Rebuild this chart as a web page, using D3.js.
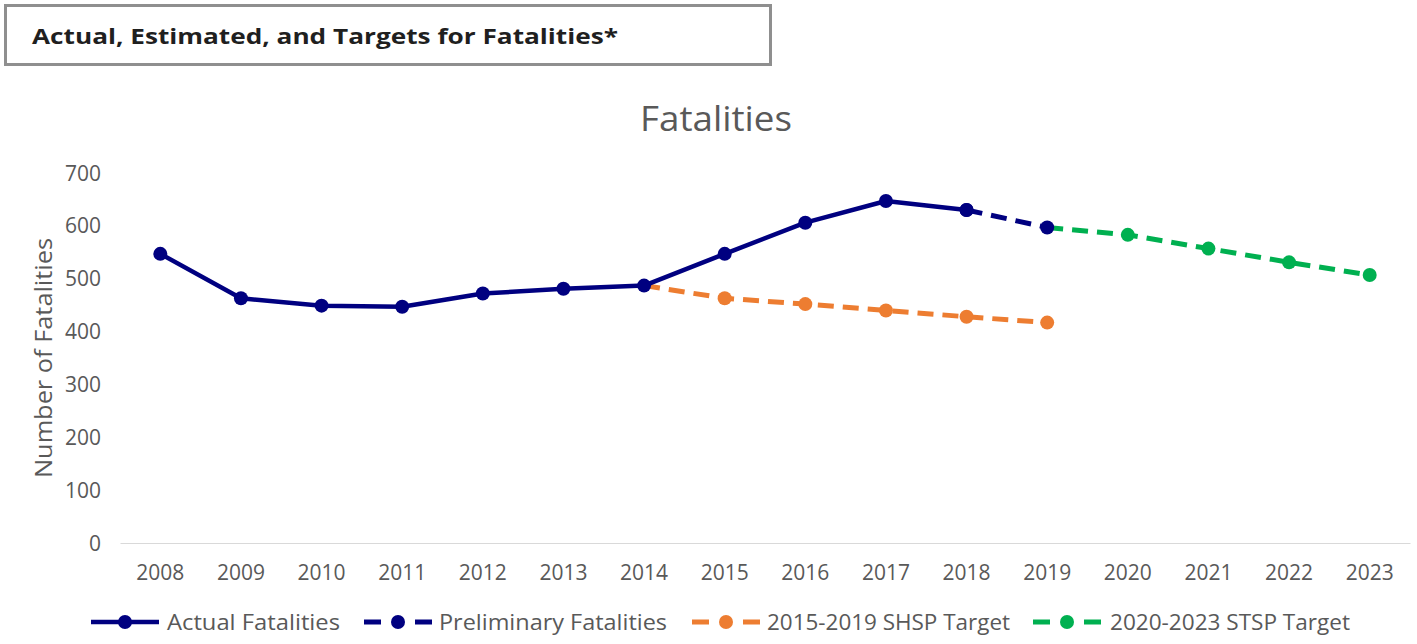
<!DOCTYPE html>
<html>
<head>
<meta charset="utf-8">
<script src="https://cdn.jsdelivr.net/npm/d3@7"></script>
<style>
  html, body { margin: 0; padding: 0; background: #fff; }
  svg { display: block; }
</style>
</head>
<body>
<svg id="chart" width="1417" height="644"></svg>
<script>
// ---- Data ----
const years = ["2008","2009","2010","2011","2012","2013","2014","2015","2016","2017","2018","2019","2020","2021","2022","2023"];
const actualYears = ["2008","2009","2010","2011","2012","2013","2014","2015","2016","2017","2018"];
const actualValues = [547, 463, 449, 447, 472, 481, 487, 547, 606, 647, 630];
const prelimYears = ["2018","2019"];
const prelimValues = [630, 597];
const shspYears = ["2014","2015","2016","2017","2018","2019"];
const shspValues = [487, 463, 452, 440, 428, 417];
const stspYears = ["2019","2020","2021","2022","2023"];
const stspValues = [597, 583, 557, 531, 507];
const yTicks = [0, 100, 200, 300, 400, 500, 600, 700];
const legendLabels = ["Actual Fatalities", "Preliminary Fatalities", "2015-2019 SHSP Target", "2020-2023 STSP Target"];

// ---- Styles ----
const NAVY = "#000080", ORANGE = "#ED7D31", GREEN = "#00B050", TXT = "#595959";
const FONT = "'Open Sans', 'Noto Sans', sans-serif";

const svg = d3.select("#chart");
svg.append("rect").attr("width", 1417).attr("height", 644).attr("fill", "#fff");

// Header box
svg.append("rect").attr("x", 5.5).attr("y", 5.5).attr("width", 765).attr("height", 59)
  .attr("fill", "#fff").attr("stroke", "#8f8f8f").attr("stroke-width", 3);
svg.append("text").attr("x", 32).attr("y", 44)
  .attr("font-family", FONT).attr("font-weight", "bold")
  .attr("font-size", 22).attr("fill", "#1f1f1f")
  .attr("textLength", 586).attr("lengthAdjust", "spacingAndGlyphs")
  .text("Actual, Estimated, and Targets for Fatalities*");

// Chart title
svg.append("text").attr("x", 716).attr("y", 131).attr("text-anchor", "middle")
  .attr("font-family", FONT).attr("font-size", 34).attr("fill", TXT)
  .attr("textLength", 152).attr("lengthAdjust", "spacingAndGlyphs")
  .text("Fatalities");

// Scales
const x = d3.scaleBand().domain(years).range([120, 1410]).padding(0);
const cx = d => x(d) + x.bandwidth() / 2;
const y = d3.scaleLinear().domain([0, 700]).range([543, 173]);

// Y axis
const yAxis = svg.append("g").attr("transform", "translate(101,0)")
  .call(d3.axisLeft(y).tickValues(yTicks).tickSize(0).tickPadding(0).tickFormat(d3.format("d")));
yAxis.select(".domain").remove();
yAxis.selectAll("text").attr("font-family", FONT).attr("font-size", 21).attr("fill", TXT)
  .attr("dy", "0.34em");

// X axis
const xAxis = svg.append("g").attr("transform", "translate(0,543)")
  .call(d3.axisBottom(x).tickSize(0).tickPadding(0));
xAxis.select(".domain").attr("stroke", "#d9d9d9").attr("stroke-width", 1.2);
xAxis.selectAll("text").attr("font-family", FONT).attr("font-size", 21).attr("fill", TXT)
  .attr("y", 37).attr("dy", 0);

// Y axis title
svg.append("text").attr("transform", "translate(52,358) rotate(-90)").attr("text-anchor", "middle")
  .attr("font-family", FONT).attr("font-size", 24).attr("fill", TXT)
  .attr("textLength", 240).attr("lengthAdjust", "spacingAndGlyphs")
  .text("Number of Fatalities");

// Lines
const line = d3.line().x(d => cx(d[0])).y(d => y(d[1]));
const zip = (a, b) => a.map((k, i) => [k, b[i]]);

function drawSeries(pts, color, dashed, markerPts) {
  svg.append("path").attr("d", line(pts)).attr("fill", "none").attr("stroke", color)
    .attr("stroke-width", dashed ? 5 : 4.5).attr("stroke-dasharray", dashed ? "16,9" : null)
    .attr("stroke-linejoin", "round");
  svg.append("g").selectAll("circle").data(markerPts).join("circle")
    .attr("cx", d => cx(d[0])).attr("cy", d => y(d[1])).attr("r", 7).attr("fill", color);
}

const shsp = zip(shspYears, shspValues);
const stsp = zip(stspYears, stspValues);
const actual = zip(actualYears, actualValues);
const prelim = zip(prelimYears, prelimValues);

drawSeries(shsp, ORANGE, true, shsp.slice(1));
drawSeries(stsp, GREEN, true, stsp.slice(1));
drawSeries(prelim, NAVY, true, prelim);
drawSeries(actual, NAVY, false, actual);

// Legend
const legendItems = [
  { label: legendLabels[0], color: NAVY, dashed: false, x0: 91, tx: 167, tl: 173 },
  { label: legendLabels[1], color: NAVY, dashed: true, x0: 364, tx: 439, tl: 228 },
  { label: legendLabels[2], color: ORANGE, dashed: true, x0: 692, tx: 767, tl: 243 },
  { label: legendLabels[3], color: GREEN, dashed: true, x0: 1033, tx: 1110, tl: 240 }
];
const ly = 622;
const lg = svg.append("g");
legendItems.forEach(it => {
  const g = lg.append("g").attr("transform", `translate(${it.x0},${ly})`);
  g.append("line").attr("x1", 0).attr("x2", 68).attr("y1", 0).attr("y2", 0)
    .attr("stroke", it.color).attr("stroke-width", it.dashed ? 5 : 4.5)
    .attr("stroke-dasharray", it.dashed ? "17,11,12,11,17" : null);
  g.append("circle").attr("cx", 34).attr("cy", 0).attr("r", 7).attr("fill", it.color);
  g.append("text").attr("x", it.tx - it.x0).attr("y", 0).attr("dy", "0.35em")
    .attr("font-family", FONT).attr("font-size", 22).attr("fill", TXT)
    .attr("textLength", it.tl).attr("lengthAdjust", "spacingAndGlyphs").text(it.label);
});
</script>
</body>
</html>
